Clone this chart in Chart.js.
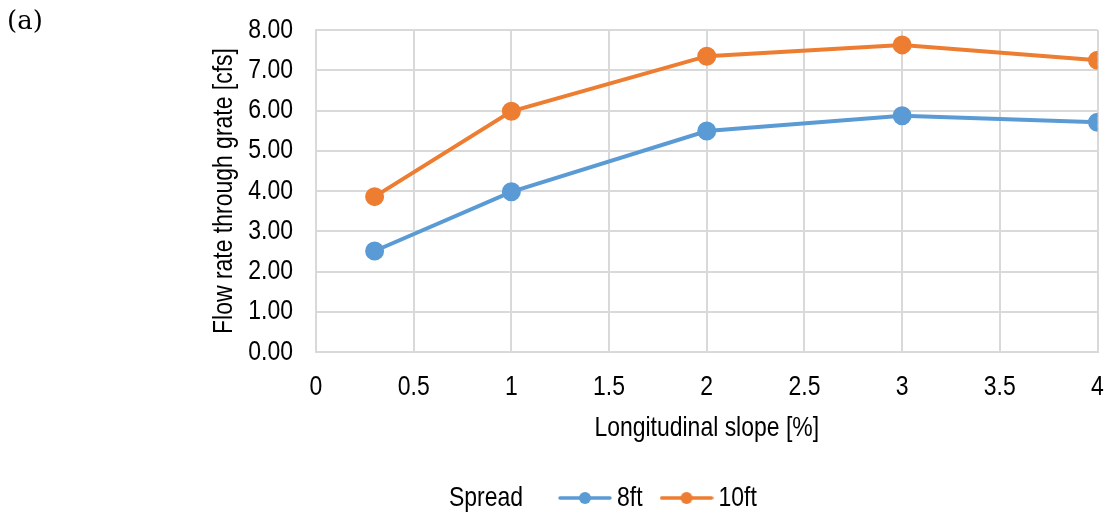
<!DOCTYPE html>
<html>
<head>
<meta charset="utf-8">
<script src="https://cdn.jsdelivr.net/npm/chart.js"></script>
<style>
    body { margin: 0; background: #fff; }
    #wrap { position: relative; width: 1109px; height: 518px; }
    #tag { position: absolute; left: 7px; top: 5px; font: 26px "DejaVu Serif", serif; color: #000; }
</style>
</head>
<body>
<div id="wrap">
    <canvas id="chart" width="1109" height="518"></canvas>
    <div id="tag">(a)</div>
</div>
<script>
const slopes = [0.3, 1, 2, 3, 4];
const flow8ft = [2.51, 3.98, 5.49, 5.87, 5.71];
const flow10ft = [3.86, 5.98, 7.35, 7.63, 7.25];
const seriesNames = ['8ft', '10ft'];
const seriesColors = ['#5B9BD5', '#ED7D31'];
const legendTitle = 'Spread';

const FONT = '"Liberation Sans", Arial, sans-serif';
Chart.defaults.font.family = FONT;
Chart.defaults.font.size = 28;
Chart.defaults.color = '#000';

// no narrow font installed: squeeze the text of this canvas horizontally instead
const NARROW = 0.82;
let ctx = document.getElementById('chart').getContext('2d');
const baseFill = ctx.fillText;
ctx.fillText = function (text, x, y, maxWidth) {
    this.save();
    this.translate(x, y);
    this.scale(NARROW, 1);
    if (maxWidth === undefined) {
        baseFill.call(this, text, 0, 0);
    } else {
        baseFill.call(this, text, 0, 0, maxWidth / NARROW);
    }
    this.restore();
};
const baseMeasure = ctx.measureText;
ctx.measureText = function (text) {
    let m = baseMeasure.call(this, text);
    return {
        width: m.width * NARROW,
        actualBoundingBoxLeft: m.actualBoundingBoxLeft * NARROW,
        actualBoundingBoxRight: m.actualBoundingBoxRight * NARROW,
        actualBoundingBoxAscent: m.actualBoundingBoxAscent,
        actualBoundingBoxDescent: m.actualBoundingBoxDescent,
    };
};

// small line + dot picture for the legend
let legendIcon = (color) => {
    let c = document.createElement('canvas');
    c.width = 54;
    c.height = 16;
    let g = c.getContext('2d');
    g.strokeStyle = color;
    g.lineWidth = 3.5;
    g.lineCap = 'round';
    g.beginPath();
    g.moveTo(2, 8);
    g.lineTo(52, 8);
    g.stroke();
    g.fillStyle = color;
    g.beginPath();
    g.arc(27, 8, 6, 0, Math.PI * 2);
    g.fill();
    return c;
};
const icons = seriesColors.map(legendIcon);

let toPoints = (ys) => slopes.map((x, i) => ({x: x, y: ys[i]}));

// legend sits right of centre, with its title on the same line
const spreadLegend = {
    id: 'spreadLegend',
    afterLayout(chart) {
        chart.legend.left = 541;
        chart.legend.top = 458;
    },
    afterDraw(chart) {
        let c = chart.ctx;
        let lab = chart.options.plugins.legend.labels;
        c.save();
        c.font = '28px ' + FONT;
        c.fillStyle = '#000';
        c.textAlign = 'right';
        c.textBaseline = 'middle';
        c.fillText(legendTitle, 523, chart.legend.top + lab.padding + 14);
        c.restore();
    }
};

const gridColor = '#d9d9d9';

new Chart(ctx, {
    type: 'line',
    data: {
        datasets: [
            {
                label: seriesNames[0],
                data: toPoints(flow8ft),
                borderColor: seriesColors[0],
                backgroundColor: seriesColors[0],
                borderWidth: 4,
                pointRadius: 7.5,
                pointHoverRadius: 7.5,
                tension: 0,
            },
            {
                label: seriesNames[1],
                data: toPoints(flow10ft),
                borderColor: seriesColors[1],
                backgroundColor: seriesColors[1],
                borderWidth: 4,
                pointRadius: 7.5,
                pointHoverRadius: 7.5,
                tension: 0,
            }
        ]
    },
    options: {
        responsive: false,
        animation: false,
        devicePixelRatio: 1,
        layout: {
            padding: {left: 0, top: 30, right: 11, bottom: 0}
        },
        scales: {
            x: {
                type: 'linear',
                min: 0,
                max: 4,
                ticks: {
                    stepSize: 0.5,
                    padding: 18,
                    maxRotation: 0,
                    autoSkip: false,
                    callback: (v) => String(v),
                },
                grid: {color: gridColor, lineWidth: 2, drawTicks: false},
                border: {color: gridColor, width: 2},
                title: {
                    display: true,
                    text: 'Longitudinal slope [%]',
                    padding: {top: 0, bottom: 9},
                },
                afterFit: (s) => {
                    s.height = 102;
                    s.paddingLeft = 0;
                    s.paddingRight = 0;
                },
            },
            y: {
                min: 0,
                max: 8,
                ticks: {
                    stepSize: 1,
                    padding: 23,
                    callback: (v) => v.toFixed(2),
                },
                grid: {color: gridColor, lineWidth: 2, drawTicks: false},
                border: {color: gridColor, width: 2},
                title: {
                    display: true,
                    text: 'Flow rate through grate [cfs]',
                    padding: {top: 207, bottom: 0},
                },
                afterFit: (s) => {
                    s.width = 316;
                    s.paddingTop = 0;
                    s.paddingBottom = 0;
                },
            }
        },
        plugins: {
            tooltip: {enabled: false},
            legend: {
                position: 'bottom',
                align: 'start',
                labels: {
                    usePointStyle: true,
                    pointStyleWidth: 36,
                    padding: 26,
                    font: {size: 28},
                    generateLabels: (chart) => chart.data.datasets.map((ds, i) => ({
                        text: ds.label,
                        pointStyle: icons[i],
                        fillStyle: seriesColors[i],
                        strokeStyle: seriesColors[i],
                        lineWidth: 0,
                        hidden: false,
                        datasetIndex: i,
                    })),
                }
            }
        }
    },
    plugins: [spreadLegend]
});
</script>
</body>
</html>
